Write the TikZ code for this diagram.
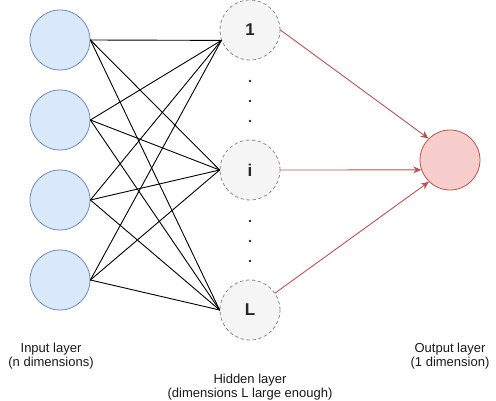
\documentclass[tikz,border=0pt]{standalone}
\usepackage{fontspec}
\setmainfont{Liberation Sans}
\usetikzlibrary{arrows.meta}
\definecolor{infill}{HTML}{DAE8FC}
\definecolor{indraw}{HTML}{6C8EBF}
\definecolor{hidfill}{HTML}{F5F5F5}
\definecolor{hiddraw}{HTML}{8A8A8A}
\definecolor{outfill}{HTML}{F8CECC}
\definecolor{outdraw}{HTML}{B85450}
\tikzset{
  innode/.style={circle,draw=indraw,fill=infill,minimum size=60pt,inner sep=0pt,line width=0.8pt},
  hidnode/.style={circle,draw=hiddraw,fill=hidfill,dashed,minimum size=60pt,inner sep=0pt,line width=0.8pt,
    text=black!85,font=\fontsize{17}{19}\selectfont\bfseries},
  outnode/.style={circle,draw=outdraw,fill=outfill,minimum size=60pt,inner sep=0pt,line width=0.8pt},
  wire/.style={black,line width=0.9pt},
  redarrow/.style={outdraw,line width=0.9pt,-{Stealth[length=8pt,width=7pt]}},
  lbl/.style={align=center,font=\fontsize{13}{14}\selectfont,text=black!90}
}
\begin{document}
\begin{tikzpicture}[x=1pt,y=-1pt,line cap=round,line join=round]
\useasboundingbox (0,0) rectangle (496,401);
%Input layer
\foreach \k/\y in {1/40,2/120,3/200,4/280}
  \node[innode] (x\k) at (60,\y) {};
%Hidden layer
\node[hidnode] (h1) at (250,30) {1};
\node[hidnode] (hi) at (250,170) {i};
\node[hidnode] (hL) at (250,310) {L};
\foreach \y in {81,101,121,221,241,261}
  \fill[black!85] (250,\y) circle (1.3pt);
%Output layer
\node[outnode] (out) at (450,160) {};
%Connections
\foreach \k in {1,...,4}{
  \draw[wire] (x\k.east) -- (h1.200);
  \draw[wire] (x\k.east) -- (hi.west);
  \draw[wire] (x\k.east) -- (hL.west);
}
\draw[redarrow] (h1.east) -- (out.135);
\draw[redarrow] (hi.east) -- (out.199);
\draw[redarrow] (hL.34) -- (out.226);
%Labels
\node[lbl] (inlbl) at (51,356) {Input layer\\(n dimensions)};
\node[lbl] (hidlbl) at (250,387) {Hidden layer\\(dimensions L large enough)};
\node[lbl] (outlbl) at (450,356) {Output layer\\(1 dimension)};
\end{tikzpicture}
\end{document}
